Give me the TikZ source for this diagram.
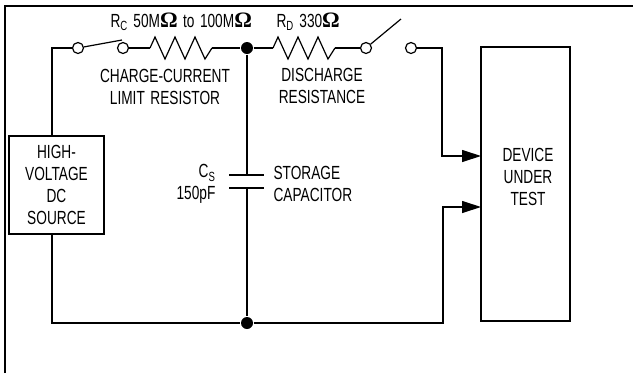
\documentclass[tikz,border=0pt]{standalone}
\usepackage{amsmath}
\usepackage{fontspec}
\setmainfont{Liberation Sans}[FakeStretch=0.72]
\newfontfamily\ohmfont{Liberation Serif}
\usetikzlibrary{arrows.meta}
\newcommand{\labelfont}{\fontsize{19}{22}\selectfont\spaceskip=5.5pt\relax}
\newcommand{\ohm}{{\ohmfont\bfseries\fontsize{22}{22}\selectfont Ω}}
\tikzset{
	block/.style={draw,inner sep=0pt,align=center,font=\labelfont},
	label/.style={inner sep=0pt,align=center,font=\labelfont},
	contact/.style={draw,circle,fill=white,inner sep=0pt,minimum size=11pt},
	junction/.style={fill,circle,inner sep=0pt,minimum size=12pt},
}
\begin{document}
\begin{tikzpicture}[x=1pt,y=-1pt,line width=1.2pt]
\useasboundingbox (0,0) rectangle (633,373);
\draw (5,373) -- (5,6) -- (633,6);
% blocks
\node [block,minimum width=95pt,minimum height=98pt] (source) at (56.5,185) {HIGH-\\VOLTAGE\\DC\\SOURCE};
\node [block,minimum width=89pt,minimum height=274pt] (dut) at (525.5,184) {};
% contacts and dots
\node [contact] (sw1a) at (78,48) {};
\node [contact] (sw1b) at (123,48) {};
\node [contact] (sw2a) at (366,48) {};
\node [contact] (sw2b) at (411,48) {};
\node [junction] (top) at (247,48) {};
\node [junction] (bot) at (247,323) {};
% free ends
\coordinate (arm1) at (122,40);
\coordinate (arm2) at (401,19);
\coordinate (rc1) at (150,48);
\coordinate (rc2) at (212,48);
\coordinate (rd1) at (273,48);
\coordinate (rd2) at (335,48);
\coordinate (platea) at (247,175);
\coordinate (plateb) at (247,188);
\coordinate (inup) at (481,156);
\coordinate (indown) at (481,207);
% wires
\draw (source.north -| 52,0) |- (sw1a);
\draw (sw1a) -- (arm1);
\draw (sw1b) -- (rc1);
\draw (rc1) -- ++(5,-11) -- ++(10,22) -- ++(10,-22) -- ++(10,22) -- ++(10,-22) -- ++(10,22) -- (rc2);
\draw (rc2) -- (top);
\draw (top) -- (rd1);
\draw (rd1) -- ++(5,-11) -- ++(10,22) -- ++(10,-22) -- ++(10,22) -- ++(10,-22) -- ++(10,22) -- (rd2);
\draw (rd2) -- (sw2a);
\draw (sw2a) -- (arm2);
\draw (top) -- (platea);
\draw (plateb) -- (bot);
\draw (source.south -| 52,0) |- (bot);
% capacitor
\draw ([xshift=-18pt]platea) -- ([xshift=17pt]platea);
\draw ([xshift=-18pt]plateb) -- ([xshift=17pt]plateb);
\begin{scope}[-{Triangle[length=19pt,width=12pt]}]
	\draw (sw2b) -| (442,156) -- (inup);
	\draw (bot) -| (443,207) -- (indown);
\end{scope}
% text
\node [label,anchor=west] (rc) at (110,22) {R\textsubscript{C} 50M\ohm{} to 100M\ohm};
\node [label,anchor=west] (rd) at (276,22) {R\textsubscript{D} 330\ohm};
\node [label] (rcnote) at (165,87) {CHARGE-CURRENT\\LIMIT RESISTOR};
\node [label] (rdnote) at (322,86) {DISCHARGE\\RESISTANCE};
\node [label,anchor=east,align=right] (cs) at (216,184) {C\textsubscript{S}\\150pF};
\node [label,anchor=west,align=left] (csnote) at (273,184) {STORAGE\\CAPACITOR};
\node [label] (dutnote) at (528,177) {DEVICE\\UNDER\\TEST};
\end{tikzpicture}
\end{document}
